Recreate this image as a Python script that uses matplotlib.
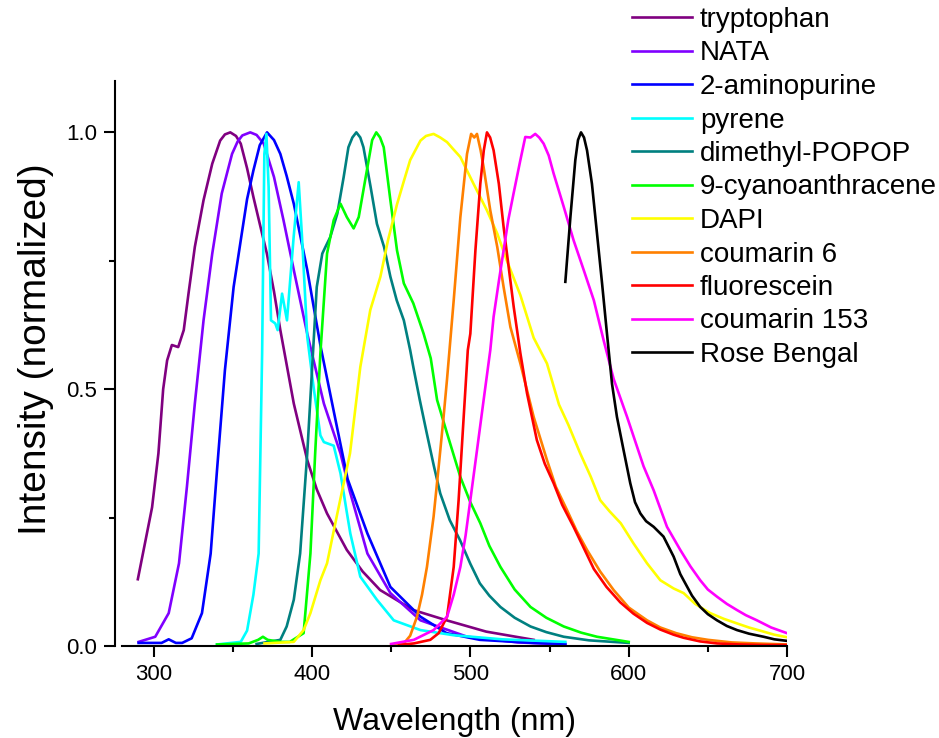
import matplotlib

matplotlib.use("Agg")
import matplotlib.pyplot as plt
from matplotlib.ticker import MultipleLocator, FormatStrFormatter

plt.rcParams["font.family"] = ["Liberation Sans", "DejaVu Sans"]

# normalized emission spectra, read point by point (wavelength nm, intensity)
trp_wl = [290, 299, 303, 306, 308.5, 311.5, 315.5, 319, 322, 326, 331.5, 337, 342, 345, 348.4, 352, 355,
          359, 363, 367, 371.5, 376, 380, 388.5, 397, 403, 409.5, 422, 432, 443, 464, 485, 510, 540]
trp_int = [0.13, 0.27, 0.375, 0.50, 0.556, 0.586, 0.582, 0.615, 0.686, 0.777, 0.868, 0.939, 0.984, 0.996, 1.0, 0.993, 0.978,
           0.93, 0.874, 0.822, 0.764, 0.69, 0.615, 0.472, 0.362, 0.305, 0.258, 0.187, 0.145, 0.109, 0.07, 0.05, 0.028, 0.012]

nata_wl = [290.5, 301, 309.5, 316, 321, 326, 331.5, 337, 343, 349.5, 353, 356, 361, 365, 369.5, 376, 382,
           388.5, 397, 407.5, 418, 424, 435, 449.5, 468.5, 498, 530, 560]
nata_int = [0.008, 0.018, 0.064, 0.161, 0.31, 0.472, 0.634, 0.764, 0.881, 0.958, 0.982, 0.994, 1.0, 0.995, 0.978, 0.913, 0.829,
            0.732, 0.608, 0.472, 0.375, 0.30, 0.18, 0.103, 0.05, 0.018, 0.007, 0.003]

ap_wl = [290.5, 305, 309.5, 314, 318, 324, 330.5, 336, 340, 345, 350.5, 355.5, 359, 363, 367, 371.6, 376, 380,
         384, 388.5, 397, 405.5, 414, 422.5, 435, 449.5, 468.5, 485, 506, 540, 560]
ap_int = [0.006, 0.006, 0.013, 0.006, 0.006, 0.015, 0.064, 0.18, 0.342, 0.537, 0.699, 0.80, 0.87, 0.926, 0.975, 1.0, 0.985, 0.958,
          0.915, 0.861, 0.732, 0.582, 0.453, 0.325, 0.219, 0.115, 0.057, 0.025, 0.012, 0.006, 0.004]

pyr_wl = [340, 355, 359, 363, 366.3, 368.5, 369.9, 371.2, 372.6, 374.1, 376.8, 378.3, 381.1, 384.2, 388.4,
          391.6, 393.7, 397, 401, 405.3, 407.5, 413.7, 418, 422, 424.2, 430.5, 441, 451.6, 468.5, 489.4, 520, 560]
pyr_int = [0.003, 0.008, 0.03, 0.10, 0.18, 0.57, 0.958, 0.997, 0.894, 0.634, 0.628, 0.615, 0.686, 0.634, 0.796,
           0.903, 0.796, 0.602, 0.504, 0.41, 0.397, 0.39, 0.336, 0.26, 0.219, 0.135, 0.09, 0.05, 0.031, 0.021, 0.013, 0.008]

popop_wl = [365, 380, 384, 388.5, 392.5, 397, 400, 403, 406.5, 408.5, 411.5, 416, 420, 423, 425.5, 428,
            430.5, 432.5, 437, 441, 445.5, 449.5, 453.5, 458, 462, 464, 468, 472.5, 477, 481, 487, 493.5, 500,
            506, 512, 519, 528, 538, 548, 559, 575, 590, 600]
popop_int = [0.004, 0.012, 0.038, 0.09, 0.18, 0.375, 0.537, 0.699, 0.764, 0.777, 0.796, 0.842, 0.913, 0.971, 0.99, 1.0,
             0.99, 0.971, 0.894, 0.822, 0.777, 0.719, 0.673, 0.634, 0.576, 0.543, 0.48, 0.414, 0.35, 0.297, 0.245, 0.206, 0.16,
             0.122, 0.098, 0.076, 0.055, 0.038, 0.027, 0.018, 0.011, 0.008, 0.006]

cya_wl = [340, 360, 366, 369, 372, 380, 386, 394.7, 399, 402, 405.3, 409.5, 413.7, 418, 422, 426.3,
          429.5, 435, 438, 440.6, 443, 445.3, 449.5, 453.7, 458, 464, 470.5, 475, 479, 485.3, 493.7, 500,
          506.3, 512, 519, 528, 538, 548, 559, 570, 580, 600]
cya_int = [0.003, 0.005, 0.012, 0.018, 0.012, 0.008, 0.008, 0.025, 0.18, 0.375, 0.57, 0.764, 0.829, 0.861, 0.835, 0.813,
           0.835, 0.932, 0.985, 1.0, 0.99, 0.971, 0.868, 0.77, 0.706, 0.667, 0.608, 0.56, 0.479, 0.414, 0.329, 0.28,
           0.239, 0.195, 0.154, 0.11, 0.076, 0.055, 0.038, 0.026, 0.018, 0.008]

dapi_wl = [370, 388.5, 394.7, 399, 405.3, 409.5, 416, 424, 430.5, 436.8, 443.2, 448, 453.7, 458, 462, 468.5, 472, 476.8,
           481, 485.3, 489, 493.7, 502, 510.5, 517, 523, 531.6, 540, 548.4, 556, 562, 569.4, 576, 582, 588, 595, 603, 611.6, 620, 628.4,
           634.7, 642, 651.5, 660, 668.4, 676, 685.2, 692, 700]
dapi_int = [0.005, 0.008, 0.031, 0.064, 0.128, 0.161, 0.258, 0.375, 0.543, 0.654, 0.719, 0.79, 0.86, 0.905, 0.946, 0.984, 0.993, 0.997,
            0.99, 0.981, 0.968, 0.952, 0.90, 0.848, 0.803, 0.751, 0.683, 0.60, 0.55, 0.47, 0.43, 0.375, 0.33, 0.284, 0.262, 0.239, 0.2, 0.161, 0.128, 0.112,
            0.103, 0.082, 0.064, 0.053, 0.044, 0.036, 0.028, 0.022, 0.017]

c6_wl = [450, 458, 462, 466.3, 469.5, 472.6, 476.8, 480, 483.1, 485.3, 489.5, 493.7, 497.9, 500.5, 502.5, 504.2, 506.5, 508.4,
         512.6, 517, 521, 525.3, 531.6, 540, 548.4, 554, 561, 567, 573.7, 582, 590.5, 600, 611.6, 620, 630, 640, 650, 665, 680, 700]
c6_int = [0.002, 0.005, 0.02, 0.057, 0.1, 0.154, 0.252, 0.349, 0.446, 0.52, 0.673, 0.835, 0.958, 0.997, 0.99, 0.997, 0.965, 0.932,
          0.848, 0.777, 0.699, 0.621, 0.55, 0.446, 0.362, 0.31, 0.265, 0.225, 0.187, 0.145, 0.109, 0.075, 0.05, 0.036, 0.025, 0.017, 0.012, 0.007, 0.005, 0.003]

fl_wl = [455, 464.3, 474.7, 480, 485.3, 489.5, 492.6, 495.8, 498.4, 500, 503.2, 506.3, 508.5, 510.5, 512.5, 514.7, 518, 521,
         524.2, 527.4, 531.6, 535.8, 542, 547, 552.6, 558, 565.2, 571, 578, 586, 594.7, 603, 611.6, 620, 628.4, 634.7,
         645, 655.8, 670, 685, 700]
fl_int = [0.002, 0.005, 0.012, 0.025, 0.057, 0.154, 0.284, 0.446, 0.576, 0.608, 0.77, 0.90, 0.965, 1.0, 0.99, 0.965, 0.90, 0.816,
          0.738, 0.66, 0.57, 0.492, 0.401, 0.355, 0.317, 0.275, 0.232, 0.195, 0.15, 0.115, 0.085, 0.063, 0.045, 0.032, 0.022, 0.016,
          0.009, 0.005, 0.003, 0.002, 0.002]

c153_wl = [450, 464.3, 476.8, 485.3, 489.5, 493.7, 497, 500, 504.2, 508.4, 512.6, 514.7, 518, 521, 524, 527.3, 531.6, 534.7, 538,
           541, 543.5, 546.3, 549.5, 552.6, 559, 565.2, 571.6, 578, 584.2, 590.5, 599, 609.4, 615.8, 624.2, 632.6, 639, 645.2,
           650, 655.8, 662, 668.4, 674, 681, 690, 700]
c153_int = [0.004, 0.012, 0.031, 0.057, 0.1, 0.154, 0.215, 0.284, 0.381, 0.479, 0.576, 0.641, 0.71, 0.77, 0.83, 0.881, 0.946, 0.991, 0.99,
            0.997, 0.99, 0.978, 0.955, 0.92, 0.855, 0.79, 0.732, 0.673, 0.595, 0.52, 0.446, 0.35, 0.303, 0.232, 0.187, 0.155, 0.128,
            0.11, 0.096, 0.082, 0.07, 0.06, 0.05, 0.036, 0.025]

rb_wl = [560, 563.2, 566.3, 568, 569.9, 571.8, 573.7, 576.8, 580, 583.2, 586.3, 589.5, 592.6, 596.8, 601, 604, 607.4, 611, 615.8,
         622, 628.4, 632.6, 634.7, 640, 645.2, 650, 655.8, 662, 668.4, 676, 685.2, 692, 700]
rb_int = [0.709, 0.835, 0.946, 0.985, 1.0, 0.99, 0.965, 0.90, 0.803, 0.706, 0.608, 0.51, 0.446, 0.381, 0.317, 0.28, 0.258, 0.243, 0.232,
          0.213, 0.174, 0.14, 0.128, 0.098, 0.076, 0.062, 0.05, 0.039, 0.031, 0.024, 0.018, 0.013, 0.01]

labels = ["tryptophan", "NATA", "2-aminopurine", "pyrene", "dimethyl-POPOP", "9-cyanoanthracene",
          "DAPI", "coumarin 6", "fluorescein", "coumarin 153", "Rose Bengal"]
colors = ["#800080", "#8000FF", "#0000FF", "#00FFFF", "#008080", "#00FF00",
          "#FFFF00", "#FF8000", "#FF0000", "#FF00FF", "#000000"]
series = [(trp_wl, trp_int), (nata_wl, nata_int), (ap_wl, ap_int), (pyr_wl, pyr_int),
          (popop_wl, popop_int), (cya_wl, cya_int), (dapi_wl, dapi_int), (c6_wl, c6_int),
          (fl_wl, fl_int), (c153_wl, c153_int), (rb_wl, rb_int)]

fig = plt.figure(figsize=(9.39, 7.38), dpi=100)
ax = fig.add_axes([122 / 939, 1 - 646 / 738, 665 / 939, 565 / 738])

for (wl, inten), lab, col in zip(series, labels, colors):
    ax.plot(wl, inten, color=col, lw=1.9, label=lab, solid_joinstyle="round")

ax.set_xlim(280, 700)
ax.set_ylim(0, 1.1)
ax.xaxis.set_major_locator(MultipleLocator(100))
ax.xaxis.set_minor_locator(MultipleLocator(50))
ax.yaxis.set_major_locator(MultipleLocator(0.5))
ax.yaxis.set_minor_locator(MultipleLocator(0.25))
ax.yaxis.set_major_formatter(FormatStrFormatter("%.1f"))

for s in ("top", "right"):
    ax.spines[s].set_visible(False)
ax.spines["left"].set_position(("outward", 5))
for s in ("left", "bottom"):
    ax.spines[s].set_linewidth(1.5)
ax.tick_params(which="major", length=8, width=1.5, labelsize=16, pad=5)
ax.tick_params(which="minor", length=4.5, width=1.5)

ax.set_xlabel("Wavelength (nm)", fontsize=23, labelpad=16)
ax.set_ylabel("Intensity (normalized)", fontsize=28)
ax.yaxis.set_label_coords(-0.102, 0.526)

fig.legend(loc="upper left", bbox_to_anchor=(632 / 939, 1 - 7 / 738), frameon=False,
           fontsize=20, handlelength=2.15, handletextpad=0.3, labelspacing=0.27,
           borderpad=0, borderaxespad=0)

fig.savefig("out.png", dpi=100)
